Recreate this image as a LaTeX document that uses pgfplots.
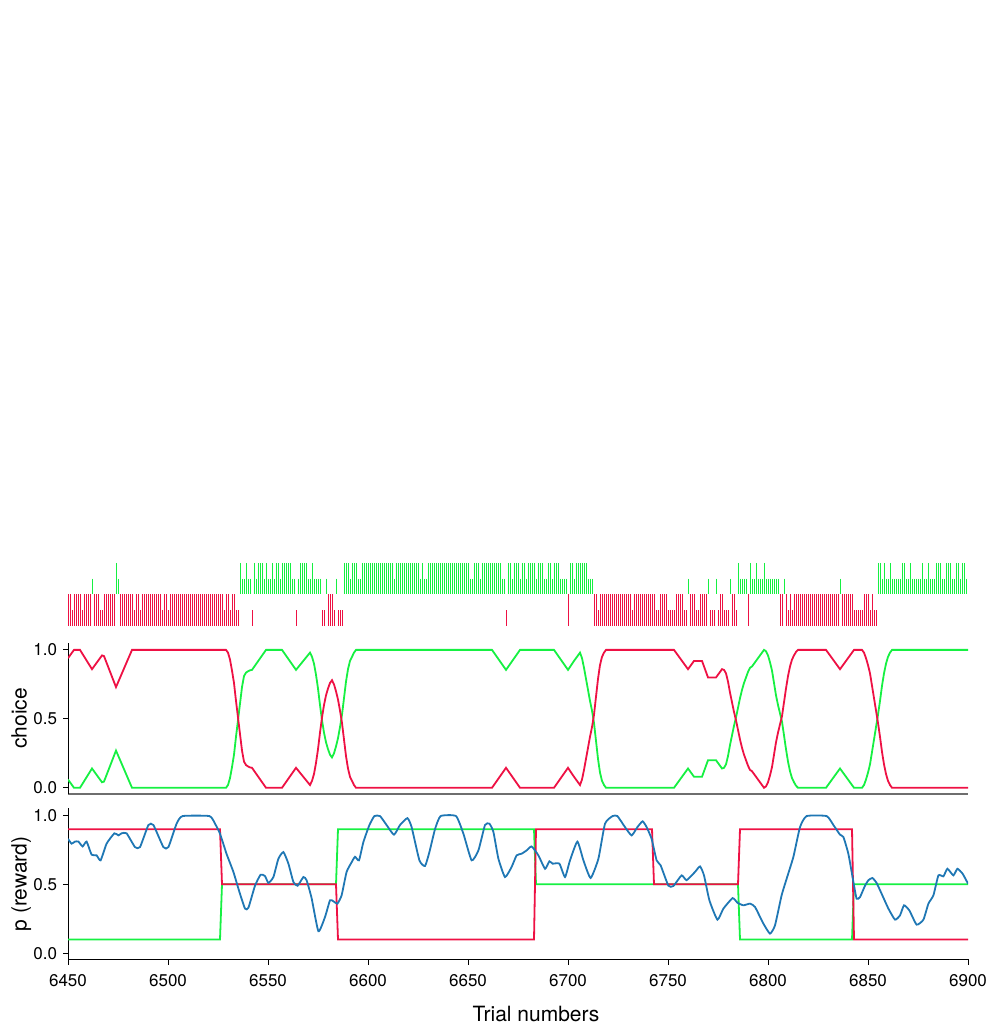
\documentclass[border=0pt]{standalone}
\usepackage{pgfplots}
\pgfplotsset{compat=1.18}
\usepackage{pgfplotstable}
\usepackage{fontspec}
\setmainfont{TeX Gyre Heros}
\definecolor{cred}{RGB}{238,17,68}
\definecolor{cgreen}{RGB}{22,240,66}
\definecolor{cblue}{RGB}{31,119,180}
\definecolor{spinegray}{RGB}{110,110,110}

\pgfplotstableread{
t r g
6450 0.94 0.06
6453 1.00 0.00
6456 1.00 0.00
6462 0.86 0.14
6467 0.96 0.04
6468 0.955 0.045
6474 0.73 0.27
6482 1.00 0.00
6529 1.00 0.00
6530 0.98 0.02
6531 0.93 0.07
6532 0.85 0.15
6533 0.76 0.24
6534 0.63 0.37
6535 0.51 0.49
6536 0.39 0.61
6537 0.27 0.73
6538 0.19 0.81
6539 0.165 0.835
6540 0.155 0.845
6541 0.148 0.852
6542 0.145 0.855
6549 0.00 1.00
6557 0.00 1.00
6564 0.145 0.855
6571 0.02 0.98
6572 0.05 0.95
6573 0.10 0.90
6574 0.18 0.82
6575 0.28 0.72
6576 0.40 0.60
6577 0.51 0.49
6578 0.60 0.40
6579 0.67 0.33
6580 0.72 0.28
6581 0.76 0.24
6582 0.78 0.22
6583 0.75 0.25
6584 0.70 0.30
6585 0.64 0.36
6586 0.56 0.44
6587 0.47 0.53
6588 0.35 0.65
6589 0.23 0.77
6590 0.14 0.86
6591 0.08 0.92
6592 0.05 0.95
6593 0.02 0.98
6594 0.00 1.00
6662 0.00 1.00
6669 0.145 0.855
6676 0.00 1.00
6693 0.00 1.00
6700 0.145 0.855
6703 0.08 0.92
6706 0.02 0.98
6707 0.06 0.94
6708 0.13 0.87
6709 0.21 0.79
6710 0.29 0.71
6711 0.37 0.63
6712 0.44 0.56
6713 0.53 0.47
6714 0.66 0.34
6715 0.79 0.21
6716 0.89 0.11
6717 0.95 0.05
6718 0.98 0.02
6719 1.00 0.00
6753 1.00 0.00
6760 0.86 0.14
6763 0.92 0.08
6767 0.92 0.08
6770 0.80 0.20
6774 0.80 0.20
6777 0.86 0.14
6778 0.855 0.145
6779 0.83 0.17
6780 0.77 0.23
6781 0.69 0.31
6782 0.62 0.38
6783 0.55 0.45
6784 0.49 0.51
6785 0.42 0.58
6786 0.35 0.65
6787 0.29 0.71
6788 0.24 0.76
6789 0.20 0.80
6790 0.16 0.84
6791 0.13 0.87
6792 0.12 0.88
6795 0.06 0.94
6798 0.00 1.00
6799 0.01 0.99
6800 0.04 0.96
6801 0.09 0.91
6802 0.15 0.85
6803 0.24 0.76
6804 0.33 0.67
6805 0.40 0.60
6806 0.46 0.54
6807 0.52 0.48
6808 0.62 0.38
6809 0.72 0.28
6810 0.81 0.19
6811 0.88 0.12
6812 0.93 0.07
6813 0.96 0.04
6814 0.985 0.015
6815 1.00 0.00
6829 1.00 0.00
6836 0.86 0.14
6843 1.00 0.00
6847 1.00 0.00
6848 0.98 0.02
6849 0.94 0.06
6850 0.89 0.11
6851 0.83 0.17
6852 0.74 0.26
6853 0.65 0.35
6854 0.56 0.44
6855 0.47 0.53
6856 0.37 0.63
6857 0.26 0.74
6858 0.17 0.83
6859 0.10 0.90
6860 0.05 0.95
6861 0.02 0.98
6862 0.00 1.00
6900 0.00 1.00
}\choicetab

\pgfplotstableread{
t p
6450 0.83
6451.8 0.795
6453.5 0.81
6455.2 0.81
6457.3 0.775
6459.3 0.81
6461.8 0.715
6464.3 0.71
6466.3 0.674
6469.3 0.795
6473.2 0.87
6475.2 0.855
6476.8 0.87
6479.3 0.87
6483.5 0.77
6486 0.77
6490.2 0.93
6492.7 0.93
6497.7 0.77
6500.2 0.77
6504.3 0.94
6507.3 0.995
6520.7 0.995
6523.5 0.94
6526 0.867
6529.3 0.72
6532.7 0.59
6535.7 0.445
6538.5 0.324
6540.2 0.33
6543.5 0.49
6546.3 0.57
6548.5 0.56
6550.2 0.51
6552.7 0.553
6555.2 0.686
6557.7 0.734
6560.2 0.65
6562.7 0.517
6564.8 0.49
6567.7 0.553
6569.3 0.53
6571.8 0.40
6575.2 0.16
6578.5 0.263
6581 0.384
6582.7 0.377
6584.7 0.36
6586.8 0.42
6589.3 0.59
6591.8 0.66
6593.5 0.70
6595.5 0.674
6597.7 0.807
6600.7 0.93
6603.2 0.995
6606 0.995
6609.3 0.93
6613 0.86
6616 0.93
6619.7 0.98
6621.8 0.915
6625.7 0.674
6628.5 0.633
6630.7 0.734
6633.5 0.90
6636.3 0.995
6644 0.995
6647.7 0.867
6651.8 0.674
6655.2 0.746
6658.5 0.93
6660.7 0.94
6662.7 0.88
6665.2 0.686
6668.5 0.553
6671.8 0.626
6674.3 0.71
6676.8 0.722
6679.3 0.746
6681.8 0.775
6685.2 0.71
6688.5 0.613
6690.7 0.667
6692.3 0.65
6695.7 0.65
6698.5 0.553
6701 0.674
6704.7 0.81
6707.7 0.674
6711.3 0.546
6715.2 0.686
6718.5 0.94
6722.3 0.995
6724.7 0.995
6728.5 0.915
6731.8 0.855
6734.7 0.915
6737.3 0.957
6739.3 0.915
6741.8 0.83
6744.3 0.674
6746.3 0.638
6750.2 0.49
6752.7 0.488
6756.8 0.565
6759.3 0.53
6763.5 0.59
6766 0.63
6768 0.565
6770.7 0.384
6774.7 0.244
6777.7 0.324
6782.3 0.40
6784.7 0.367
6787.7 0.348
6791 0.36
6793.5 0.336
6797.7 0.215
6801 0.143
6803.5 0.203
6806.8 0.42
6809.3 0.54
6812.7 0.70
6816 0.915
6819.3 0.995
6829.3 0.995
6832.7 0.93
6836 0.86
6837.7 0.843
6840.2 0.72
6842.7 0.517
6844.3 0.396
6846 0.408
6848.5 0.49
6850.2 0.53
6852.2 0.546
6854.3 0.51
6856.8 0.432
6860.2 0.324
6863.5 0.244
6866 0.275
6868 0.348
6870.7 0.31
6874.3 0.208
6877.7 0.244
6880.2 0.36
6882.7 0.42
6885.2 0.565
6887.7 0.558
6889.7 0.613
6892.7 0.565
6894.7 0.613
6897.3 0.577
6900 0.505
}\rewardtab

\pgfplotsset{
  panel/.style={
    scale only axis, width=900pt, height=151pt,
    xmin=6450, xmax=6900, ymin=-0.045, ymax=1.05,
    axis x line*=bottom, axis y line*=left,
    axis line style={-},
    tick align=outside, major tick length=5pt,
    ytick={0,0.5,1},
    yticklabel style={xshift=-2.5pt, /pgf/number format/fixed, /pgf/number format/fixed zerofill, /pgf/number format/precision=1},
    /pgf/number format/assume math mode=true,
    tick label style={font=\fontsize{17}{17}\selectfont},
    label style={font=\fontsize{21}{21}\selectfont},
    ylabel style={at={(axis description cs:-0.0459,0.5)}, anchor=base},
    every tick/.style={black, line width=0.8pt},
    y axis line style={black, line width=0.8pt},
  },
  raster/.style={only marks, mark=|, mark options={line width=1.0pt}},
}

\begin{document}
\begin{tikzpicture}
\path[use as bounding box] (0pt,0pt) rectangle (993pt,1027pt);
% ---------------- raster
\begin{axis}[at={(68pt,401pt)}, anchor=south west, scale only axis, width=900pt, height=63pt,
  xmin=6450, xmax=6900, ymin=0, ymax=2, hide axis, clip=false]
% red rewarded
\addplot[raster, mark size=15.75pt, cred] coordinates {
(6450,0.5)(6451,0.5)(6453,0.5)(6454,0.5)(6455,0.5)(6456,0.5)(6458,0.5)(6459,0.5)(6460,0.5)(6461,0.5)
(6463,0.5)(6464,0.5)(6465,0.5)(6468,0.5)(6469,0.5)(6470,0.5)(6471,0.5)(6472,0.5)(6473,0.5)
(6476,0.5)(6477,0.5)(6478,0.5)(6479,0.5)(6480,0.5)(6481,0.5)(6482,0.5)(6484,0.5)(6485,0.5)
(6487,0.5)(6488,0.5)(6489,0.5)(6490,0.5)(6491,0.5)(6492,0.5)(6493,0.5)(6494,0.5)(6495,0.5)(6496,0.5)
(6498,0.5)(6499,0.5)
(6501,0.5)(6502,0.5)(6503,0.5)(6504,0.5)(6505,0.5)(6506,0.5)(6507,0.5)(6508,0.5)(6509,0.5)(6510,0.5)
(6511,0.5)(6512,0.5)(6513,0.5)(6514,0.5)(6515,0.5)(6516,0.5)(6517,0.5)(6518,0.5)(6519,0.5)(6520,0.5)
(6521,0.5)(6522,0.5)(6523,0.5)(6524,0.5)(6525,0.5)(6526,0.5)(6527,0.5)
(6529,0.5)(6530,0.5)(6532,0.5)(6533,0.5)
(6580,0.5)(6581,0.5)(6582,0.5)
(6700,0.5)
(6713,0.5)(6714,0.5)(6716,0.5)(6717,0.5)(6718,0.5)(6719,0.5)(6720,0.5)(6721,0.5)(6722,0.5)(6723,0.5)
(6724,0.5)(6725,0.5)(6726,0.5)(6727,0.5)(6728,0.5)(6729,0.5)(6730,0.5)(6731,0.5)
(6733,0.5)(6734,0.5)(6735,0.5)(6736,0.5)(6737,0.5)(6738,0.5)(6739,0.5)(6740,0.5)(6741,0.5)(6742,0.5)(6743,0.5)
(6746,0.5)(6747,0.5)(6748,0.5)(6749,0.5)(6754,0.5)(6755,0.5)(6756,0.5)(6757,0.5)
(6761,0.5)(6762,0.5)(6763,0.5)(6766,0.5)(6767,0.5)(6768,0.5)(6769,0.5)
(6776,0.5)(6777,0.5)(6782,0.5)(6783,0.5)(6790,0.5)
(6806,0.5)(6807,0.5)(6809,0.5)(6811,0.5)
(6813,0.5)(6814,0.5)(6815,0.5)(6816,0.5)(6817,0.5)(6818,0.5)(6819,0.5)(6820,0.5)(6821,0.5)(6822,0.5)
(6823,0.5)(6824,0.5)(6825,0.5)(6826,0.5)(6827,0.5)(6828,0.5)(6829,0.5)(6830,0.5)(6831,0.5)(6832,0.5)
(6833,0.5)(6834,0.5)(6835,0.5)
(6837,0.5)(6838,0.5)(6839,0.5)(6840,0.5)(6841,0.5)(6842,0.5)
(6848,0.5)(6849,0.5)(6850,0.5)(6852,0.5)
};
% red unrewarded
\addplot[raster, mark size=7.875pt, cred] coordinates {
(6452,0.25)(6457,0.25)(6466,0.25)(6467,0.25)(6483,0.25)(6486,0.25)(6497,0.25)(6500,0.25)
(6528,0.25)(6531,0.25)(6534,0.25)(6535,0.25)
(6542,0.25)(6564,0.25)(6577,0.25)(6578,0.25)(6583,0.25)(6585,0.25)(6586,0.25)(6587,0.25)
(6669,0.25)
(6715,0.25)(6732,0.25)(6744,0.25)(6745,0.25)(6750,0.25)(6751,0.25)(6752,0.25)(6753,0.25)(6758,0.25)(6759,0.25)
(6764,0.25)(6765,0.25)(6771,0.25)(6772,0.25)(6773,0.25)(6775,0.25)(6778,0.25)(6779,0.25)(6780,0.25)(6784,0.25)
(6810,0.25)(6812,0.25)
(6843,0.25)(6844,0.25)(6845,0.25)(6846,0.25)(6847,0.25)(6851,0.25)(6853,0.25)(6854,0.25)
};
% green rewarded
\addplot[raster, mark size=15.75pt, cgreen] coordinates {
(6474,1.5)
(6536,1.5)(6539,1.5)(6543,1.5)(6545,1.5)(6546,1.5)(6547,1.5)(6549,1.5)(6552,1.5)(6554,1.5)(6555,1.5)
(6557,1.5)(6558,1.5)(6559,1.5)(6560,1.5)(6561,1.5)(6566,1.5)(6567,1.5)(6568,1.5)(6569,1.5)(6572,1.5)
(6588,1.5)(6589,1.5)(6590,1.5)(6592,1.5)(6593,1.5)(6594,1.5)
(6597,1.5)(6598,1.5)(6599,1.5)(6600,1.5)(6601,1.5)(6602,1.5)(6603,1.5)(6604,1.5)(6605,1.5)(6606,1.5)
(6607,1.5)(6608,1.5)(6609,1.5)(6610,1.5)(6611,1.5)(6612,1.5)
(6614,1.5)(6615,1.5)(6616,1.5)(6617,1.5)(6618,1.5)(6619,1.5)(6620,1.5)(6621,1.5)(6622,1.5)(6623,1.5)
(6624,1.5)(6625,1.5)(6627,1.5)
(6630,1.5)(6631,1.5)(6632,1.5)(6633,1.5)(6634,1.5)(6635,1.5)(6636,1.5)(6637,1.5)(6638,1.5)(6639,1.5)
(6640,1.5)(6641,1.5)(6642,1.5)(6643,1.5)(6644,1.5)(6645,1.5)(6646,1.5)(6647,1.5)(6648,1.5)(6649,1.5)(6650,1.5)
(6653,1.5)(6654,1.5)(6655,1.5)
(6657,1.5)(6658,1.5)(6659,1.5)(6660,1.5)(6661,1.5)(6662,1.5)(6663,1.5)(6664,1.5)(6665,1.5)(6666,1.5)
(6670,1.5)(6671,1.5)(6673,1.5)(6674,1.5)(6675,1.5)(6677,1.5)(6678,1.5)
(6680,1.5)(6681,1.5)(6682,1.5)(6683,1.5)(6685,1.5)(6686,1.5)(6687,1.5)(6690,1.5)(6691,1.5)
(6693,1.5)(6694,1.5)(6695,1.5)(6701,1.5)(6702,1.5)
(6704,1.5)(6705,1.5)(6706,1.5)(6707,1.5)(6708,1.5)(6709,1.5)
(6785,1.5)(6791,1.5)(6794,1.5)(6798,1.5)
(6855,1.5)(6856,1.5)(6858,1.5)(6861,1.5)(6867,1.5)(6868,1.5)(6871,1.5)(6877,1.5)(6880,1.5)
(6884,1.5)(6885,1.5)(6886,1.5)(6889,1.5)(6890,1.5)(6891,1.5)(6894,1.5)(6895,1.5)(6897,1.5)(6898,1.5)
};
% green unrewarded
\addplot[raster, mark size=7.875pt, cgreen] coordinates {
(6462,1.25)(6475,1.25)
(6537,1.25)(6538,1.25)(6540,1.25)(6541,1.25)(6544,1.25)(6548,1.25)(6550,1.25)(6551,1.25)(6553,1.25)(6556,1.25)
(6562,1.25)(6563,1.25)(6565,1.25)(6570,1.25)(6571,1.25)(6573,1.25)(6574,1.25)(6575,1.25)(6576,1.25)(6579,1.25)(6584,1.25)
(6591,1.25)(6595,1.25)(6596,1.25)(6613,1.25)(6626,1.25)(6628,1.25)(6629,1.25)(6651,1.25)(6652,1.25)(6656,1.25)
(6667,1.25)(6668,1.25)(6672,1.25)(6676,1.25)(6679,1.25)(6684,1.25)(6688,1.25)(6689,1.25)(6692,1.25)
(6696,1.25)(6697,1.25)(6698,1.25)(6699,1.25)(6703,1.25)(6710,1.25)(6711,1.25)(6712,1.25)
(6760,1.25)(6770,1.25)(6774,1.25)(6781,1.25)(6786,1.25)(6787,1.25)(6788,1.25)(6789,1.25)
(6792,1.25)(6793,1.25)(6795,1.25)(6796,1.25)(6797,1.25)
(6799,1.25)(6800,1.25)(6801,1.25)(6802,1.25)(6803,1.25)(6804,1.25)(6805,1.25)(6808,1.25)(6836,1.25)
(6857,1.25)(6859,1.25)(6860,1.25)(6862,1.25)(6863,1.25)(6864,1.25)(6865,1.25)(6866,1.25)
(6869,1.25)(6870,1.25)(6872,1.25)(6873,1.25)(6874,1.25)(6875,1.25)(6876,1.25)(6878,1.25)(6879,1.25)
(6881,1.25)(6882,1.25)(6883,1.25)(6887,1.25)(6888,1.25)(6892,1.25)(6893,1.25)(6896,1.25)(6899,1.25)
};
\end{axis}
% ---------------- choice
\begin{axis}[panel, at={(68pt,233pt)}, anchor=south west,
  xtick=\empty, ylabel={choice},
  x axis line style={spinegray, line width=1.6pt}]
\addplot[cgreen, line width=1.8pt] table[x=t, y=g] {\choicetab};
\addplot[cred, line width=1.8pt] table[x=t, y=r] {\choicetab};
\end{axis}
% ---------------- reward
\begin{axis}[panel, at={(68pt,67.5pt)}, anchor=south west,
  xtick={6450,6500,6550,6600,6650,6700,6750,6800,6850,6900},
  xticklabel style={/pgf/number format/1000 sep={}, yshift=-6pt},
  x axis line style={black, line width=0.8pt},
  ylabel={p (reward)},
  xlabel={Trial numbers},
  xlabel style={at={(axis description cs:0.52,0)}, anchor=base, yshift=-62.2pt}]
\addplot[cgreen, line width=1.8pt] coordinates {(6450,0.1)(6526,0.1)(6527,0.5)(6584,0.5)(6585,0.9)(6683,0.9)(6684,0.5)(6785,0.5)(6786,0.1)(6842,0.1)(6843,0.5)(6900,0.5)};
\addplot[cred, line width=1.8pt] coordinates {(6450,0.9)(6526,0.9)(6527,0.5)(6584,0.5)(6585,0.1)(6683,0.1)(6684,0.9)(6742,0.9)(6743,0.5)(6785,0.5)(6786,0.9)(6842,0.9)(6843,0.1)(6900,0.1)};
\addplot[cblue, line width=1.8pt, smooth, tension=0.3] table[x=t, y=p] {\rewardtab};
\end{axis}
\end{tikzpicture}
\end{document}
